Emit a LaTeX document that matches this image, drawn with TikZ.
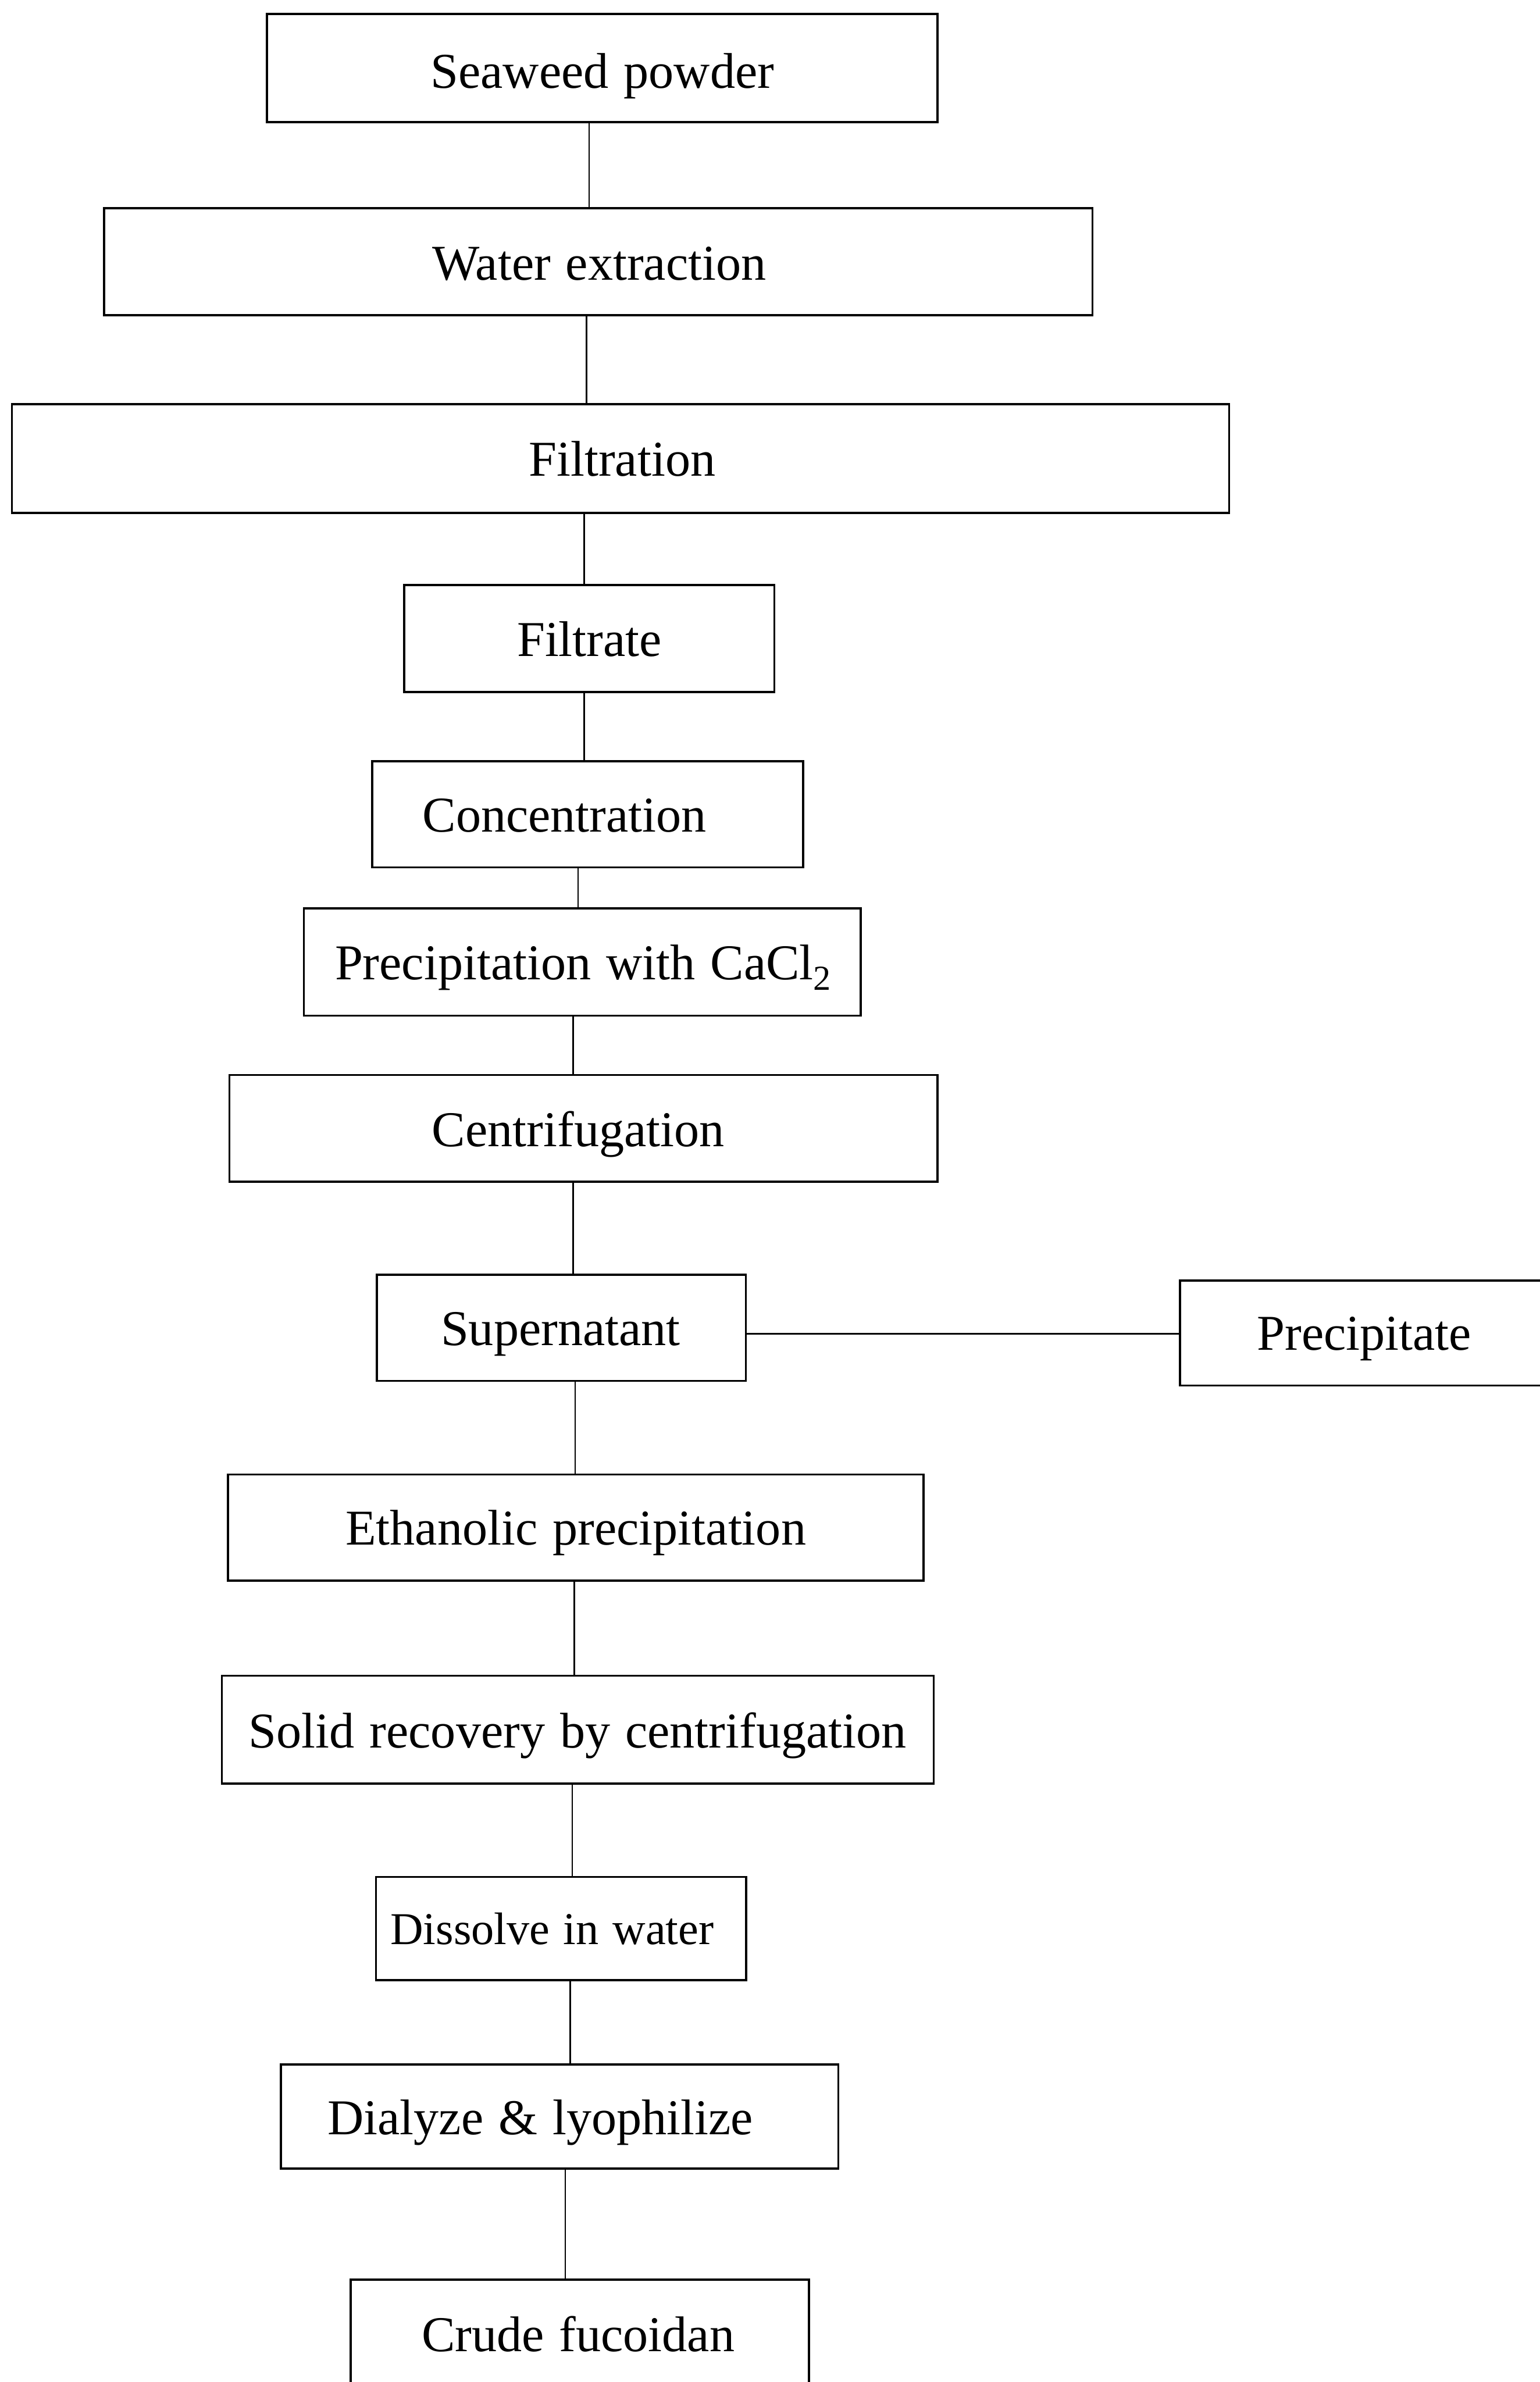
\documentclass[tikz,border=0pt]{standalone}
\usepackage{fontspec}
\setmainfont{Liberation Serif}
% caption fonts with slightly wider word spacing
\newcommand\capfont{\fontsize{33}{40}\selectfont\spaceskip 0.3em\relax}
\newcommand\capfontsmall{\fontsize{30}{36}\selectfont\spaceskip 0.3em\relax}
\begin{document}
\begin{tikzpicture}[x=1pt,y=-1pt,
  stepbox/.style={draw=black,line width=1.4pt,rectangle,inner sep=0pt},
  steptext/.style={anchor=base,inner sep=0pt,font=\capfont},
  link/.style={draw=black,line width=0.9pt},
  sidelink/.style={draw=black,line width=1.3pt}]
\useasboundingbox (0,0) rectangle (1013.4,1568);
\fill[white] (0,0) rectangle (1013.4,1568);

% process boxes (centre, width, height)
\node[stepbox,minimum width=441.3pt,minimum height=71.3pt] (seaweed) at (396.4,44.8) {};
\node[stepbox,minimum width=650.5pt,minimum height=70.5pt] (water) at (393.8,172.3) {};
\node[stepbox,minimum width=801.2pt,minimum height=71.5pt] (filtration) at (408.4,301.8) {};
\node[stepbox,minimum width=243.7pt,minimum height=70.5pt] (filtrate) at (387.9,420.3) {};
\node[stepbox,minimum width=283.5pt,minimum height=70pt] (conc) at (386.8,536) {};
\node[stepbox,minimum width=366.6pt,minimum height=70.5pt] (cacl) at (383.3,633.3) {};
\node[stepbox,minimum width=466pt,minimum height=70.1pt] (centrif) at (384,742.7) {};
\node[stepbox,minimum width=243pt,minimum height=70pt] (super) at (369.5,874) {};
\node[stepbox,minimum width=253.4pt,minimum height=69pt] (precip) at (903.3,877.5) {};
\node[stepbox,minimum width=458pt,minimum height=69.9pt] (ethanol) at (379,1005.6) {};
\node[stepbox,minimum width=468.5pt,minimum height=71pt] (solid) at (380.3,1138.5) {};
\node[stepbox,minimum width=243.5pt,minimum height=68.1pt] (dissolve) at (369.3,1269.5) {};
\node[stepbox,minimum width=367pt,minimum height=68.5pt] (dialyze) at (368.3,1393.3) {};
\node[stepbox,minimum width=301.7pt,minimum height=89.4pt] (crude) at (381.6,1545.3) {};

% box captions
\node[steptext] (tseaweed) at (396.5,57.9) {Seaweed powder};
\node[steptext] (twater) at (394.5,184.5) {Water extraction};
\node[steptext] (tfiltration) at (409.5,313.4) {Filtration};
\node[steptext] (tfiltrate) at (388,432) {Filtrate};
\node[steptext] (tconc) at (371.6,547.7) {Concentration};
\node[steptext] (tcacl) at (384,644.9) {Precipitation with CaCl\textsubscript{2}};
\node[steptext] (tcentrif) at (380.6,754.6) {Centrifugation};
\node[steptext] (tsuper) at (369,885.7) {Supernatant};
\node[steptext] (tprecip) at (898,888.8) {Precipitate};
\node[steptext] (tethanol) at (379,1017) {Ethanolic precipitation};
\node[steptext] (tsolid) at (380.2,1150.6) {Solid recovery by centrifugation};
\node[steptext,font=\capfontsmall] (tdissolve) at (363.4,1280.1) {Dissolve in water};
\node[steptext] (tdialyze) at (355.7,1405) {Dialyze \& lyophilize};
\node[steptext] (tcrude) at (380.6,1547.7) {Crude fucoidan};

% connectors
\draw[link] ([xshift=-8.7pt]seaweed.south) -- ([xshift=-6.1pt]water.north);
\draw[link] ([xshift=-7.8pt]water.south) -- ([xshift=-22.4pt]filtration.north);
\draw[link] ([xshift=-23.9pt]filtration.south) -- ([xshift=-3.4pt]filtrate.north);
\draw[link] ([xshift=-3.4pt]filtrate.south) -- ([xshift=-2.3pt]conc.north);
\draw[link] ([xshift=-6.3pt]conc.south) -- ([xshift=-2.8pt]cacl.north);
\draw[link] ([xshift=-6pt]cacl.south) -- ([xshift=-6.7pt]centrif.north);
\draw[link] ([xshift=-6.7pt]centrif.south) -- ([xshift=7.8pt]super.north);
\draw[sidelink] ([yshift=-4pt]super.east) -- ([yshift=-0.5pt]precip.west);
\draw[link] ([xshift=9.1pt]super.south) -- ([xshift=-0.4pt]ethanol.north);
\draw[link] ([xshift=-1pt]ethanol.south) -- ([xshift=-2.3pt]solid.north);
\draw[link] ([xshift=-3.6pt]solid.south) -- ([xshift=7.4pt]dissolve.north);
\draw[link] ([xshift=6.1pt]dissolve.south) -- ([xshift=7.1pt]dialyze.north);
\draw[link] ([xshift=3.7pt]dialyze.south) -- ([xshift=-9.6pt]crude.north);
\end{tikzpicture}
\end{document}
